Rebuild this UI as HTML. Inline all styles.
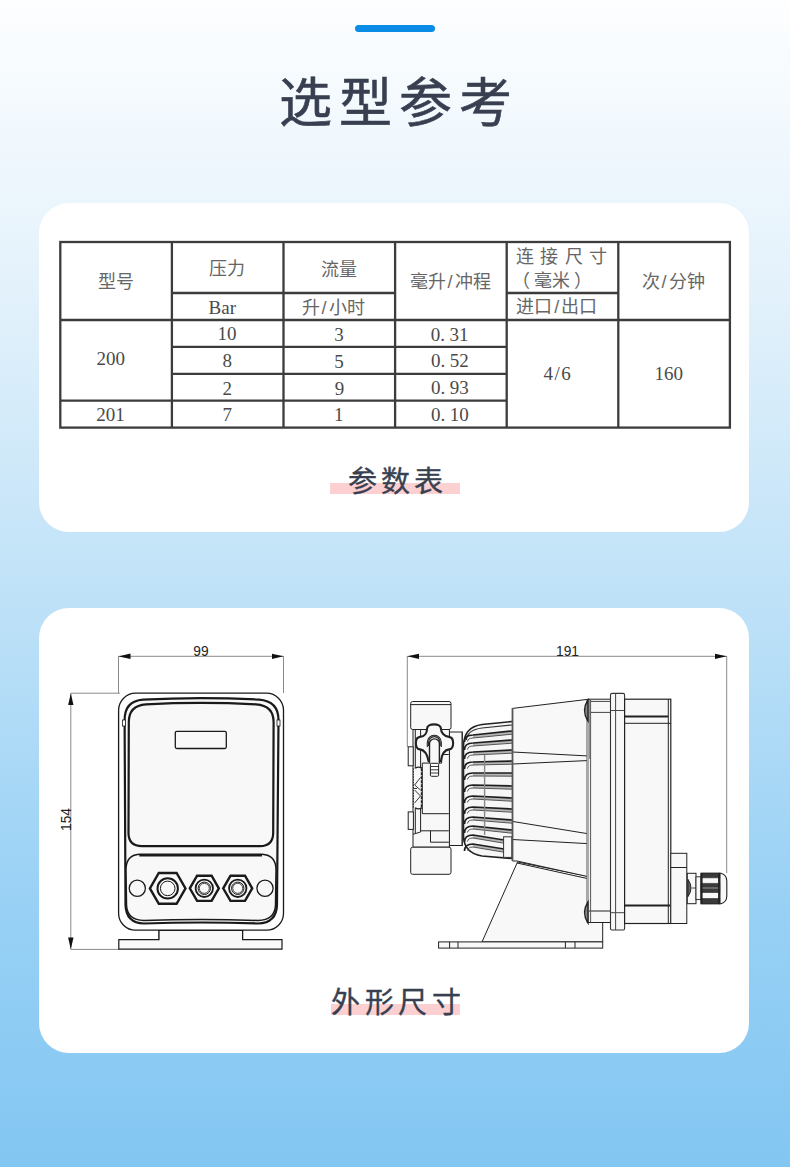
<!DOCTYPE html>
<html lang="zh-CN">
<head>
<meta charset="utf-8">
<style>
html,body{margin:0;padding:0;}
body{width:790px;height:1167px;overflow:hidden;position:relative;
  background:linear-gradient(180deg,#fdfeff 0px,#e2f1fb 300px,#c2e3f8 570px,#99d1f5 900px,#82c6f2 1167px);
  font-family:"Liberation Sans",sans-serif;}
.bar{position:absolute;left:355px;top:24.5px;width:80px;height:7.5px;border-radius:4px;background:#0a8be5;}
.title{position:absolute;left:0;width:790px;top:67px;text-align:center;font-size:53px;line-height:74px;font-weight:500;color:#383f50;letter-spacing:6.7px;text-indent:7.7px;-webkit-text-stroke:0.6px #383f50;}
.card{position:absolute;left:39px;width:710px;background:#fff;border-radius:30px;}
#c1{top:203px;height:329px;}
#c2{top:608px;height:445px;}
.lab{position:absolute;left:0;width:790px;text-align:center;font-size:29px;font-weight:500;color:#383f50;letter-spacing:4px;text-indent:4px;-webkit-text-stroke:0.35px #383f50;}
.pink{position:absolute;background:#fccfd1;}
svg{position:absolute;left:0;top:0;}
.t{font-family:"Liberation Serif",serif;font-size:19px;fill:#4a4a4a;}
.tc{font-family:"Liberation Sans",sans-serif;font-size:18px;fill:#666;}
</style>
</head>
<body>
<div class="bar"></div>
<div class="title">选型参考</div>
<div class="card" id="c1"></div>
<div class="card" id="c2"></div>
<div class="pink" style="left:330px;top:483px;width:130px;height:11px;"></div>
<div class="lab" style="top:460px;line-height:44px;">参数表</div>
<div class="pink" style="left:330.5px;top:1004px;width:129.5px;height:11px;"></div>
<div class="lab" style="top:981px;line-height:44px;letter-spacing:4.7px;text-indent:6.7px;">外形尺寸</div>

<!-- TABLE -->
<svg width="790" height="1167" viewBox="0 0 790 1167">
<g stroke="#3c3c3c" stroke-width="2.3" fill="none">
<rect x="60.3" y="242" width="669.6" height="185.6"/>
<path d="M171.9 242V427.6M283.5 242V427.6M395.1 242V427.6M506.7 242V427.6M618.3 242V427.6
M171.9 293H395.1M506.7 293H618.3M60.3 320H729.9M171.9 346.9H506.7M171.9 373.8H506.7M60.3 400.7H506.7"/>
</g>
<g class="tc">
<text x="97.9" y="288.1">型号</text>
<text x="208.7" y="275.4">压力</text>
<text x="320.9" y="276.2">流量</text>
<text x="409.6" y="288.4">毫升<tspan dx="2">/</tspan><tspan dx="2">冲程</tspan></text>
<text x="515.6" y="262.5">连<tspan dx="6.5">接</tspan><tspan dx="6.5">尺</tspan><tspan dx="6.5">寸</tspan></text>
<text x="511.8" y="286.9">（<tspan dx="4">毫米</tspan><tspan dx="4">）</tspan></text>
<text x="516.3" y="313">进口<tspan dx="2">/</tspan><tspan dx="2">出口</tspan></text>
<text x="641.6" y="288">次<tspan dx="2">/</tspan><tspan dx="2">分钟</tspan></text>
<text x="301.6" y="314.4">升<tspan dx="2">/</tspan><tspan dx="2">小时</tspan></text>
</g>
<g class="t">
<text x="208.6" y="313.5">Bar</text>
<text x="217.6" y="340.2">10</text><text x="222.6" y="367.2">8</text><text x="222.6" y="394.8">2</text><text x="222.6" y="420.6">7</text>
<text x="334.2" y="340.5">3</text><text x="334.2" y="367.5">5</text><text x="334.8" y="394.5">9</text><text x="333.9" y="421">1</text>
<text x="430.8" y="340.5">0.<tspan dx="4.5">31</tspan></text><text x="431.1" y="366.9">0.<tspan dx="4.5">52</tspan></text><text x="431.1" y="394.1">0.<tspan dx="4.5">93</tspan></text><text x="431.1" y="420.5">0.<tspan dx="4.5">10</tspan></text>
<text x="96.6" y="364.9">200</text><text x="96.3" y="420.6">201</text>
<text x="543.5" y="380.4">4<tspan dx="1.5">/</tspan><tspan dx="1.5">6</tspan></text><text x="654.5" y="380.4">160</text>
</g>
</svg>
<!-- DRAWINGS -->
<svg width="790" height="1167" viewBox="0 0 790 1167">
<defs>
<marker id="ar" viewBox="0 0 12 6" refX="12" refY="3" markerWidth="12" markerHeight="6" markerUnits="userSpaceOnUse" orient="auto-start-reverse"><path d="M12 3L0 0.3V5.7Z" fill="#111"/></marker>
</defs>
<!-- front view dims -->
<g stroke="#8a8a8a" stroke-width="1" fill="none">
<path d="M118.5 656V693M283.5 656V693M70.8 693.2H120M70.8 949.4H119"/>
<path d="M118.5 656.3H283.5" marker-start="url(#ar)" marker-end="url(#ar)"/>
<path d="M70.8 693.2V949.4" marker-start="url(#ar)" marker-end="url(#ar)"/>
</g>
<g font-family="Liberation Sans" font-size="13" fill="#222">
<text transform="translate(201 655.8) scale(0.95 1)" text-anchor="middle" font-size="14.5">99</text>
<text transform="translate(70.6 819.5) rotate(-90) scale(0.95 1)" text-anchor="middle" font-size="14.5">154</text>
</g>
<!-- front body -->
<g stroke="#1a1a1a" fill="#f8f8f8">
<rect x="118.6" y="693.2" width="164.9" height="237" rx="17" stroke-width="1.3" fill="#fff"/>
<path d="M159 930.2V939.6M242.6 930.2V939.6" stroke-width="1" fill="none"/>
<path d="M118.8 949.2V939.6H159V930.5H242.6V939.6H282V949.2Z" stroke-width="1.2"/>
<path d="M143 699.6Q201 696.5 259 699.6Q278.5 701 278.5 720L277 905Q276.5 923 258 923.5Q201 921.5 144 923.5Q126 923 125.5 905L124.6 720Q124.6 701 143 699.6Z" stroke-width="2.2"/>
<path d="M146 704.3Q201 701.5 256 704.3Q273.6 705.5 273.6 722L273.2 833Q273 846 260 846.2H142Q128.5 846 128.5 833L128.8 722Q128.8 705.5 146 704.3Z" stroke-width="2.2"/>
<path d="M139.3 854.3H262Q276 855 276 870L275.5 905Q275 920 258 920.5Q201 918.5 144 920.5Q127 920 126.5 905L126 870Q126 855 139.3 854.3Z" stroke-width="1.5" />
<path d="M139.3 855.5H262" stroke-width="1.8" fill="none"/>
<rect x="175.3" y="731.3" width="51" height="17.2" rx="1.5" stroke-width="1.3" fill="none"/>
<rect x="122.5" y="720" width="3" height="6" stroke-width="0.8" fill="#fff"/>
<rect x="277" y="720" width="3" height="6" stroke-width="0.8" fill="#fff"/>
<circle cx="137.3" cy="888.2" r="8.1" stroke-width="1.3" fill="none"/>
<circle cx="265" cy="888.2" r="8.1" stroke-width="1.3" fill="none"/>
<path d="M185.5 888.4L176.6 903.8L158.8 903.8L149.9 888.4L158.8 873.0L176.6 873.0Z" stroke-width="2.4" fill="none"/>
<circle cx="167.7" cy="888.4" r="10.2" stroke-width="2" fill="none"/>
<circle cx="167.7" cy="888.4" r="7.3" stroke-width="1" fill="none"/>
<path d="M218.8 888.3L211.6 900.9L197.1 900.9L189.8 888.3L197.1 875.7L211.6 875.7Z" stroke-width="2.4" fill="none"/>
<circle cx="204.3" cy="888.3" r="8.7" stroke-width="1.8" fill="none"/>
<circle cx="204.3" cy="888.3" r="6.2" stroke-width="1" fill="none"/>
<circle cx="204.3" cy="888.3" r="5" stroke-width="0.8" fill="none"/>
<path d="M252.2 888.3L245.0 900.9L230.5 900.9L223.2 888.3L230.5 875.7L245.0 875.7Z" stroke-width="2.4" fill="none"/>
<circle cx="237.75" cy="888.3" r="8.7" stroke-width="1.8" fill="none"/>
<circle cx="237.75" cy="888.3" r="6.2" stroke-width="1" fill="none"/>
<circle cx="237.75" cy="888.3" r="5" stroke-width="0.8" fill="none"/>
</g>
<!-- side view dims -->
<g stroke="#8a8a8a" stroke-width="1" fill="none">
<path d="M407.3 656V747M726.7 656V873"/>
<path d="M407.3 656.3H726.7" marker-start="url(#ar)" marker-end="url(#ar)"/>
</g>
<text transform="translate(567.5 655.8) scale(0.95 1)" text-anchor="middle" font-family="Liberation Sans" font-size="14.5" fill="#222">191</text>
<!-- side body -->
<g stroke="#222" stroke-width="1" fill="#f8f8f8">
<!-- base stand -->
<path d="M517.5 862L482 941.9H602.7V922.5H589V876.5Z"/>
<rect x="438.6" y="941.9" width="164.1" height="6.2"/>
<path d="M449.6 941.9V948M458 941.9V948M565.4 941.9V948M575 941.9V948" fill="none"/>
<!-- housing -->
<path d="M512.5 708.4L589 699.2H610.5V922.5H587.5V876.5L517 861H512.5Z"/>
<path d="M512.5 752L589 756M512.5 764L589 760.5M589 699.2V759M512.3 821.4L587.2 833.6M512.3 839.5L587.2 843.6M587.5 833V922.5M517 863L587.2 878.5M589 911H610.5" fill="none"/>
<path d="M587 700V922.5M590.6 699.2V922.5" fill="none" stroke="#555" stroke-width="1"/>
<path d="M588 701V922" fill="none" stroke="#aaa" stroke-width="2.2"/>
<path d="M590.6 701.4H610.5M590.6 712.4H610.5" fill="none" stroke="#444"/>
<path d="M588 700Q581 710.5 588 721Z" fill="#888" stroke-width="1.4"/>
<path d="M588 902Q581 912.5 588 923Z" fill="#888" stroke-width="1.4"/>
<!-- flange -->
<rect x="610.5" y="693.4" width="14.1" height="236.6" rx="1.5" stroke="#333" stroke-width="1.1"/>
<path d="M615.6 693.4V930M610.5 710.5H624.6M610.5 912.7H624.6" fill="none" stroke="#444"/>
<!-- rear box -->
<rect x="624.6" y="699.2" width="46.2" height="224.3" stroke-width="1.2"/>
<path d="M624.6 723.3H670.8M668.3 699.2V923.5" fill="none"/>
<path d="M624.6 905.5H670" fill="none" stroke-width="1.8"/>
<path d="M624.6 716.5H668" stroke-width="2" fill="none"/>
<!-- gland -->
<rect x="670.8" y="853.3" width="16" height="70.2"/>
<path d="M670.8 867.5H686.8" fill="none"/>
<rect x="687.3" y="873.3" width="8.7" height="30.4"/>
<path d="M688 879.4Q694 888 688 896.6Z" fill="#666" stroke-width="1"/>
<path d="M692 888H696" fill="none" stroke-width="0.8"/>
<rect x="696" y="876.8" width="5" height="22.8" stroke-width="0.9"/>
<path d="M719.7 873.3H721Q726.8 875 726.8 881V896Q726.8 902 721 903.7H719.7Z" stroke-width="1.1"/>
<rect x="701" y="873.3" width="18.7" height="30.4" stroke-width="1.2"/>
<path d="M701 873.3H719.7V877.8H701ZM701 883.4H719.7V892.5H701ZM701 898.6H719.7V903.7H701Z" fill="#3a3a3a" stroke-width="0.6"/>
<path d="M701 888H719.7" fill="none" stroke="#888" stroke-width="1.2"/>
<path d="M701.8 873.3V903.7M718.9 873.3V903.7" fill="none" stroke-width="1.6"/>
<!-- plate -->
<rect x="449.4" y="732" width="13.1" height="113.5"/>
<!-- pump head -->
<rect x="413" y="729.5" width="36.4" height="117.7"/>
<rect x="410.7" y="701.5" width="40.3" height="28" rx="2"/>
<path d="M410.7 704.6H451M410.7 870.5H451" fill="none"/>
<rect x="410.7" y="847.2" width="40.3" height="27.1" rx="2"/>
<rect x="408.2" y="746.8" width="5" height="19"/>
<rect x="408.2" y="811.9" width="5.2" height="17.5"/>
<path d="M420.6 729.5V768.3M420.6 807.7V832M415.3 729.5V768.3M415.3 807.7V833M422.3 763.1H441.6V754.5H448.8M422.3 763.1V813.7H448.8M420.6 830.8H448.8M430.5 830.8V842.2H448.8M413 834.3L420.6 832" fill="none"/>
<path d="M415.3 768.3Q418 766 422.3 768M415.3 807.7Q418 810 422.3 807.7" fill="none" stroke-width="1.3"/>
<path d="M413.4 768.3V807.7" fill="none" stroke-width="1" stroke-dasharray="1.5 1.2"/>
<path d="M421.5 768.3V807.7" fill="none" stroke-width="1.4" stroke-dasharray="3 1"/>
<path d="M420.5 777.5L414.6 785L420.5 790M414.6 790L420.5 796L414.6 803M413.5 788.5H417" fill="none" stroke-width="0.9"/>
<!-- knob -->
<path transform="translate(0 1.4)" d="M427 727.5C427 721.5 441 721.5 441 727.5C441 731 444 735 449 735.5C454.5 736 454.5 747.5 449 748C445 748.5 442 752 441 759.5H428.5C427 752 424 748.5 420 748C414.5 747.5 414.5 736 420 735.5C425 735 427 731 427 727.5Z" stroke-width="2.1" fill="#f8f8f8"/>
<path d="M429.5 763.3V743.8A4.95 4.95 0 0 1 439.4 743.8V763.3" stroke-width="1.4" fill="#f8f8f8"/>
<path d="M427.3 747V742.3A7 7 0 0 1 441.3 742.3V747M428.6 746V742.3A5.7 5.7 0 0 1 440 742.3V746" fill="none" stroke-width="1.1"/>
<rect x="430.4" y="763.3" width="8.2" height="13" rx="1.2" fill="#fff" stroke-width="1"/>
<path d="M430.4 766.5H438.6M430.4 769.8H438.6M430.4 773H438.6" fill="none" stroke-width="0.9"/>
</g>
<!-- fins -->
<path d="M512 721.5L482 724.5Q463.8 727 463.5 746V836Q463.8 853 482 856L512 858.5" fill="#f6f6f6" stroke="#222" stroke-width="1.6"/>
<path d="M512 725L482 728Q467 730 466.5 740" fill="none" stroke="#333" stroke-width="1.2"/>
<path d="M512 731L473 735L473 738L512 734.2ZM512 740L473 743L473 746L512 743.2ZM512 750L473 752L473 755L512 753.2ZM512 761L473 762L473 765L512 764.2ZM512 773L473 773L473 776L512 776.2ZM512 786L473 785L473 788L512 789.2ZM512 798L473 796L473 799L512 801.2ZM512 809L473 807L473 810L512 812.2ZM512 820L473 817L473 820L512 823.2ZM512 830L473 826L473 829L512 833.2ZM504 840L473 835L473 838L504 843.2ZM504 849L473 844L473 847L504 852.2Z" fill="#b5b5b5"/>
<g fill="none" stroke="#1e1e1e" stroke-width="1.7">
<path d="M512 731L473 735Q464.5 735 464.5 742M512 740L473 743Q464.5 743 464.5 750M512 750L473 752Q464.5 752 464.5 759M512 761L473 762Q464.5 762 464.5 769M512 773L473 773Q464.5 773 464.5 780M512 786L473 785Q464.5 785 464.5 792M512 798L473 796Q464.5 796 464.5 803M512 809L473 807Q464.5 807 464.5 814M512 820L473 817Q464.5 817 464.5 824M512 830L473 826Q464.5 826 464.5 833M504 840L473 835Q464.5 835 464.5 842M504 849L473 844Q464.5 844 464.5 851"/>
</g>
<g fill="none" stroke="#555" stroke-width="1">
<path d="M512 734.2L473 738Q468 738 467.5 741.5M512 743.2L473 746Q468 746 467.5 749.5M512 753.2L473 755Q468 755 467.5 758.5M512 764.2L473 765Q468 765 467.5 768.5M512 776.2L473 776Q468 776 467.5 779.5M512 789.2L473 788Q468 788 467.5 791.5M512 801.2L473 799Q468 799 467.5 802.5M512 812.2L473 810Q468 810 467.5 813.5M512 823.2L473 820Q468 820 467.5 823.5M512 833.2L473 829Q468 829 467.5 832.5M504 843.2L473 838Q468 838 467.5 841.5M504 852.2L473 847Q468 847 467.5 850.5"/>
</g>
<path d="M484.6 755V835" stroke="#888" fill="none" stroke-width="1.4"/>
<rect x="503.6" y="836.8" width="8.2" height="20.6" fill="#f8f8f8" stroke="#333" stroke-width="1"/>
<path d="M512.5 708V861" stroke="#555" stroke-width="1.8" fill="none"/>
<path d="M462 732V845.5" stroke="#444" stroke-width="1.2" fill="none"/>
</svg>
</body>
</html>
